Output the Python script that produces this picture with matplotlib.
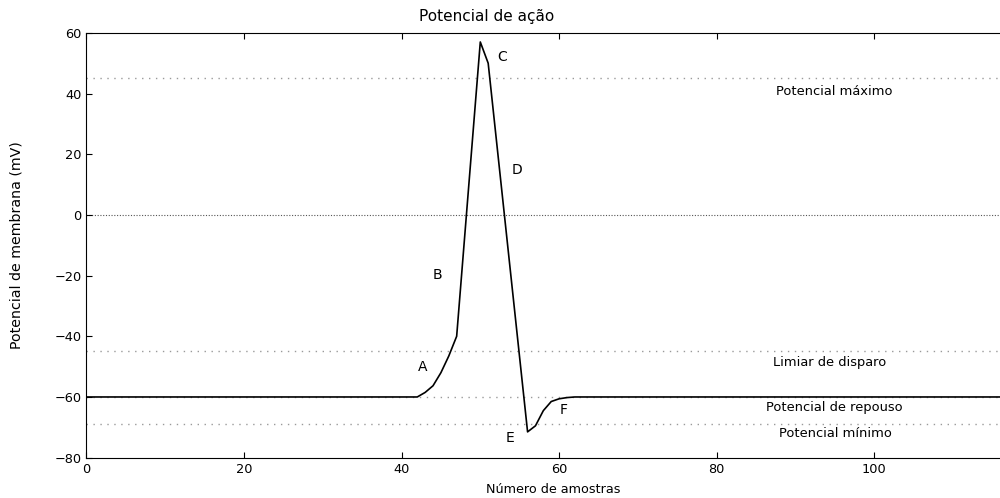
import numpy as np
import matplotlib.pyplot as plt

# amostras e potencial (mV)
amostras = [0, 42, 43, 44, 45, 46, 47, 50, 51, 56, 57, 58, 59, 60, 61, 62, 120]
potencial = [-60, -60, -58.5, -56.3, -52, -46.5, -40, 57, 50, -71.5, -69.5, -64.5, -61.5, -60.6, -60.2, -60, -60]

niveis = [45, -45, -60, -69]
nomes_niveis = ["Potencial máximo", "Limiar de disparo", "Potencial de repouso", "Potencial mínimo"]
pos_nomes = [(94.9, 40.7), (94.3, -48.8), (94.9, -63.6), (95.1, -72.1)]

letras = ["A", "B", "C", "D", "E", "F"]
pos_letras = [(42.7, -50), (44.6, -19.7), (52.8, 52.1), (54.7, 14.9), (53.8, -73.4), (60.6, -64.2)]

fig = plt.figure(figsize=(10, 4.98), dpi=100)
ax = fig.add_axes([0.0863, 0.081, 0.9456, 0.853])

for n in niveis:
    ax.axhline(n, color="#9a9a9a", lw=1.0, ls=(0, (1, 4)), zorder=1)
ax.axhline(0, color="#555555", lw=0.8, ls=(0, (1, 1.5)), zorder=1)

ax.plot(amostras, potencial, color="black", lw=1.2, zorder=3)

for t, (x, y) in zip(nomes_niveis, pos_nomes):
    ax.text(x, y, t, ha="center", va="center", fontsize=9.4)
for t, (x, y) in zip(letras, pos_letras):
    ax.text(x, y, t, ha="center", va="center", fontsize=10)

ax.set_xlim(0, 120)
ax.set_ylim(-80, 60)
ax.set_xticks(range(0, 101, 20))
ax.set_yticks(range(-80, 61, 20))
ax.tick_params(direction="in", top=True, right=True, labelsize=9.3, length=4)
ax.set_xlabel("Número de amostras", fontsize=9.2)
ax.xaxis.set_label_coords(0.494, -0.060)
ax.set_ylabel("Potencial de membrana (mV)", fontsize=10.2)
ax.yaxis.set_label_coords(-0.066, 0.5)
fig.text(0.4865, 0.966, "Potencial de ação", ha="center", va="center", fontsize=11)

plt.savefig("out.png", dpi=100)
plt.close()
